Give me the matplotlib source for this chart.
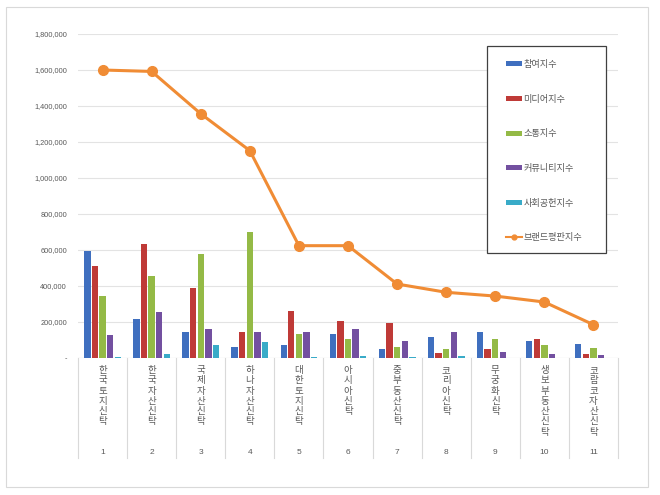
import matplotlib
matplotlib.use("Agg")
import matplotlib.pyplot as plt
from matplotlib.patches import Rectangle
from matplotlib.lines import Line2D
import numpy as np

plt.rcParams['font.family'] = ['Noto Sans CJK KR', 'DejaVu Sans']

categories = ["한국토지신탁", "한국자산신탁", "국제자산신탁", "하나자산신탁", "대한토지신탁",
              "아시아신탁", "중부동산신탁", "코리아신탁", "무궁화신탁", "생보부동산신탁", "코람코자산신탁"]
ranks = ["1", "2", "3", "4", "5", "6", "7", "8", "9", "10", "11"]

participation = [594000, 215000, 144000, 63000, 70000, 131000, 48000, 117000, 143000, 94000, 78000]
media = [509000, 632000, 387000, 144000, 261000, 204000, 193000, 26000, 48000, 106000, 20000]
communication = [346000, 454000, 578000, 700000, 133000, 104000, 61000, 52000, 106000, 70000, 55000]
community = [128000, 254000, 159000, 144000, 143000, 159000, 93000, 143000, 31000, 24000, 17000]
social = [5000, 24000, 74000, 89000, 7000, 11000, 5000, 13000, 2000, 1000, 1000]
brand = [1600000, 1592000, 1357000, 1152000, 624000, 624000, 411000, 365000, 344000, 311000, 185000]

series_names = ["참여지수", "미디어지수", "소통지수", "커뮤니티지수", "사회공헌지수"]
series_vals = [participation, media, communication, community, social]
colors = ["#3F6FBF", "#BF3A37", "#94BA46", "#7350A0", "#39ABC8"]
line_name = "브랜드평판지수"
line_color = "#F08C35"

yticks = [0, 200000, 400000, 600000, 800000, 1000000, 1200000, 1400000, 1600000, 1800000]

fig = plt.figure(figsize=(6.6, 4.95), dpi=100)
W, H = 660, 495
# outer chart border
fig.patches.append(Rectangle((6 / W, 1 - 487 / H), (648 - 6) / W, (487 - 7) / H,
                             transform=fig.transFigure, fill=False, edgecolor="#D9D9D9", lw=0.8))

left, right, top, bottom = 78, 618, 34, 358
ax = fig.add_axes([left / W, 1 - bottom / H, (right - left) / W, (bottom - top) / H])

n = len(categories)
x = np.arange(n)
bw = 0.13
step = 0.155
handles = []
for i, (name, vals, c) in enumerate(zip(series_names, series_vals, colors)):
    offs = (i - 2) * step
    h = ax.bar(x + offs, vals, width=bw, color=c, label=name, zorder=3)
    handles.append(h)

ln, = ax.plot(x, brand, color=line_color, lw=2.2, marker="o", markersize=7,
              markeredgecolor=line_color, label=line_name, zorder=4)
handles.append(ln)

ax.set_xlim(-0.5, n - 0.5)
ax.set_ylim(0, 1800000)
ax.set_yticks(yticks)
ax.set_yticklabels(["-" if v == 0 else f"{v:,}" for v in yticks],
                   fontsize=5.3, color="#595959", family=['Liberation Sans', 'DejaVu Sans'])
ax.tick_params(axis='y', length=0, pad=8)
ax.set_xticks([])
ax.grid(axis='y', color="#E3E3E3", lw=0.8, zorder=0)
for s in ax.spines.values():
    s.set_visible(False)
ax.axhline(0, color="#D9D9D9", lw=0.8, zorder=2)

# multi-level category axis
trans = ax.get_xaxis_transform()
axh = bottom - top
ylow = -(458 - bottom) / axh
for k in range(n + 1):
    ax.add_line(Line2D([k - 0.5, k - 0.5], [0, ylow], transform=trans, color="#D9D9D9",
                       lw=0.8, clip_on=False))
for k in range(n):
    ax.text(x[k], -(366 - bottom) / axh, "\n".join(categories[k]), transform=trans,
            ha="center", va="top", fontsize=6.8, color="#595959", linespacing=1.18)
    ax.text(x[k], -(452 - bottom) / axh, ranks[k], transform=trans, ha="center", va="center",
            fontsize=6, color="#595959", family=['Liberation Sans', 'DejaVu Sans'])

# legend box (drawn separately) and frameless legend inside
box = Rectangle((487 / W, 1 - 253 / H), (606 - 487) / W, (253 - 46) / H,
                transform=fig.transFigure, facecolor="white", edgecolor="#404040",
                lw=0.9, zorder=5)
ax.add_artist(box)
box.set_clip_on(False)
leg = ax.legend(handles=handles, labels=series_names + [line_name],
                loc="upper left", bbox_to_anchor=(506 / W, 1 - 60 / H),
                bbox_transform=fig.transFigure, frameon=False, fontsize=6.6, labelspacing=2.8,
                handlelength=1.75, handleheight=0.45, handletextpad=0.15, borderpad=0,
                borderaxespad=0, markerscale=0.5)
leg.set_zorder(6)
for t in leg.get_texts():
    t.set_color("#595959")
for hnd in leg.legend_handles:
    if isinstance(hnd, Line2D):
        hnd.set_linewidth(1.5)

fig.savefig("out.png", dpi=100)
